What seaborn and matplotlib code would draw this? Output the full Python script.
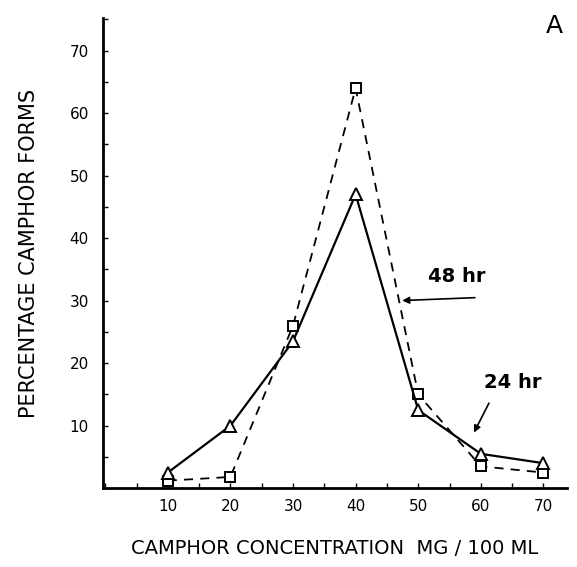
"""
    Camphor form percentage vs camphor concentration (panel A), 24 hr and 48 hr curves
"""
import matplotlib
matplotlib.use('Agg')
import matplotlib.pyplot as plt
import seaborn as sns
import pandas as pd
from matplotlib.ticker import MultipleLocator

# concentrations (mg / 100 ml)
concentration = [10, 20, 30, 40, 50, 60, 70]
# percentage camphor forms
pct_24hr = [2.5, 10, 23.5, 47, 12.5, 5.5, 4]
pct_48hr = [1.2, 1.8, 26, 64, 15, 3.5, 2.5]

sns.set_style('white')
plt.rcParams['font.family'] = ['DejaVu Sans']
plt.rcParams['text.color'] = 'black'
plt.rcParams['axes.labelcolor'] = 'black'
plt.rcParams['xtick.color'] = 'black'
plt.rcParams['ytick.color'] = 'black'

df24 = pd.DataFrame({'conc': concentration, 'pct': pct_24hr})
df48 = pd.DataFrame({'conc': concentration, 'pct': pct_48hr})

fig = plt.figure(figsize=(5.77, 5.67), dpi=100)
ax = fig.add_axes([0.178, 0.139, 0.805, 0.829])

sns.lineplot(data=df48, x='conc', y='pct', ax=ax, color='black', lw=1.3,
             linestyle=(0, (5, 4)), marker='s', markersize=7,
             markerfacecolor='white', markeredgecolor='black', markeredgewidth=1.4)
sns.lineplot(data=df24, x='conc', y='pct', ax=ax, color='black', lw=1.6,
             marker='^', markersize=8,
             markerfacecolor='white', markeredgecolor='black', markeredgewidth=1.4)

ax.set_xlim(-0.4, 73.8)
ax.set_ylim(0, 75.2)
ax.set_xticks(concentration)
ax.set_yticks([10, 20, 30, 40, 50, 60, 70])
ax.xaxis.set_minor_locator(MultipleLocator(5))
ax.yaxis.set_minor_locator(MultipleLocator(5))
ax.tick_params(which='both', direction='in', length=3.5, width=1, color='black',
               bottom=True, left=True)
ax.tick_params(axis='x', which='major', pad=8, labelsize=11)
ax.tick_params(axis='y', which='major', pad=10, labelsize=11)

for side in ['top', 'right']:
    ax.spines[side].set_visible(False)
for side in ['left', 'bottom']:
    ax.spines[side].set_color('black')
    ax.spines[side].set_linewidth(2)

ax.set_xlabel('CAMPHOR CONCENTRATION  MG / 100 ML', fontsize=14, labelpad=18)
ax.set_ylabel('PERCENTAGE CAMPHOR FORMS', fontsize=15, labelpad=22)

# curve labels with arrows
ax.annotate('', xy=(47, 30), xytext=(59.5, 30.5),
            arrowprops=dict(arrowstyle='-|>', color='black', lw=1.2))
ax.text(51.5, 33, '48 hr', fontsize=14, fontweight='bold')
ax.annotate('', xy=(58.7, 8.5), xytext=(61.5, 14),
            arrowprops=dict(arrowstyle='-|>', color='black', lw=1.2))
ax.text(60.5, 16, '24 hr', fontsize=14, fontweight='bold')

fig.text(0.975, 0.955, 'A', fontsize=18, ha='right', va='center')

fig.savefig('out.png', dpi=100)
plt.close()
